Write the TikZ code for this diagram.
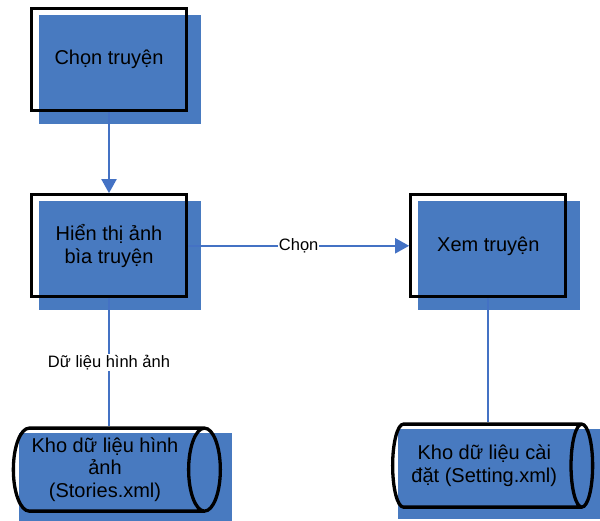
\documentclass[tikz,border=0pt]{standalone}
\usepackage{fontspec}
\setmainfont{Liberation Sans}
\usetikzlibrary{positioning, shapes.geometric, arrows.meta, backgrounds, calc}

\definecolor{fillblue}{RGB}{72,122,192}
\definecolor{lineblue}{RGB}{68,114,196}

\begin{document}
\begin{tikzpicture}[x=1pt, y=1pt,
    process/.style={rectangle, draw=black, line width=3.3pt, minimum width=155pt, minimum height=102pt, align=center, font=\fontsize{20}{22.5}\selectfont},
    store/.style={cylinder, draw=black, line width=3.3pt, aspect=0.45, minimum width=83pt, align=center, font=\fontsize{20}{22.5}\selectfont},
    flow/.style={draw=lineblue, line width=2pt},
    arrowflow/.style={flow, -{Triangle[length=14pt, width=15pt]}},
    tag/.style={fill=white, inner sep=1pt, font=\fontsize{16.5}{18}\selectfont}]
    \useasboundingbox (0,0) rectangle (600,-520);

    % Place the processing steps
    \node[process] (choose) at (109,-59.5) {Chọn truyện};
    \node[process] (cover) [below=81pt of choose] {Hiển thị ảnh\\bìa truyện};
    \node[process] (read) [right=221pt of cover] {Xem truyện};

    % Place the data stores below
    \node[store, minimum height=207pt] (images) [below=128pt of cover, xshift=-4pt] {Kho dữ liệu hình\\ảnh\\(Stories.xml)};
    \node[store, minimum height=200pt] (settings) [below=124pt of read, xshift=-4pt] {Kho dữ liệu cài\\đặt (Setting.xml)};

    % Blue panels behind the shapes
    \begin{pgfonlayer}{background}
        \foreach \n in {choose, cover, read}
            \fill[fillblue] ($(\n.north west)+(9,-8)$) rectangle ($(\n.south east)+(13,-12)$);
        \foreach \n in {images, settings}
            \fill[fillblue] ($(\n.west |- \n.north)+(7,-7)$) rectangle ($(\n.east |- \n.south)+(10,-10)$);
    \end{pgfonlayer}

    % Draw the connections
    \draw[arrowflow] (choose) -- (cover);
    \draw[arrowflow] (cover) -- node[tag] {Chọn} (read);
    \draw[flow] (cover.south) -- node[tag] {Dữ liệu hình ảnh} (cover.south |- images.north);
    \draw[flow] (read.south) -- (read.south |- settings.north);
\end{tikzpicture}
\end{document}
